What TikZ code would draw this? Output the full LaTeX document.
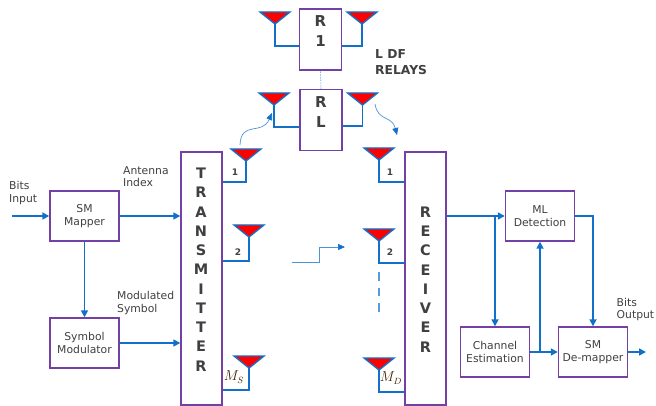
\documentclass[tikz,border=0pt]{standalone}
\usepackage{fontspec}
\setmainfont{DejaVu Sans}
\usetikzlibrary{arrows.meta}
\definecolor{boxpurple}{HTML}{7340A6}
\definecolor{wire}{HTML}{1270C8}
\definecolor{txt}{HTML}{404040}
\tikzset{
  blockbox/.style={draw=boxpurple,line width=1.4pt,fill=white,inner sep=0pt,text=txt,align=center,
    font=\fontsize{10.8}{12.6}\selectfont},
  tallbox/.style={blockbox,minimum width=41pt,minimum height=253pt},
  relaybox/.style={blockbox,minimum width=42pt,minimum height=61pt},
  smallbox/.style={blockbox,minimum width=69pt,minimum height=50pt},
  stack/.style={inner sep=0pt,text=txt,align=center,font=\fontsize{14.5}{19.25}\bfseries\selectfont},
  relaystack/.style={inner sep=0pt,text=txt,align=center,font=\fontsize{15}{20}\bfseries\selectfont},
  caption/.style={inner sep=0pt,text=txt,align=left,font=\fontsize{10.8}{12.6}\selectfont},
  relaycap/.style={inner sep=0pt,text=txt,align=left,font=\fontsize{12.3}{16}\bfseries\selectfont},
  portnum/.style={inner sep=0pt,text=txt,font=\fontsize{9}{10}\bfseries\selectfont},
  portmath/.style={inner sep=0pt,text=black!75!orange,font=\fontsize{13.5}{14}\selectfont},
  link/.style={draw=wire,line width=1.6pt,-{Triangle[length=7pt,width=7pt]}},
  feed/.style={draw=wire,line width=1.4pt},
  flow/.style={draw=wire!75,line width=.7pt,-{Triangle[length=7pt,width=6pt,color=wire,fill=wire]}},
  ant/.style={draw=wire,line width=1.4pt,fill=red,line join=miter},
}
% #1 name, #2 x, #3 top y
\newcommand{\antennaat}[3]{%
  \coordinate (#1) at (#2,#3+12);
  \draw[ant] (#2-15,#3) -- (#2+15,#3) -- (#1) -- cycle;
}
\begin{document}
\begin{tikzpicture}[x=1pt,y=-1pt]
\useasboundingbox (0,0) rectangle (656,406);

% main blocks
\node[tallbox] (tx) at (201.5,278.5) {};
\node[tallbox] (rx) at (425.5,278.5) {};
\node[stack] (txtext) at (201,269.5) {T\\R\\A\\N\\S\\M\\I\\T\\T\\E\\R};
\node[stack] (rxtext) at (425.5,279.5) {R\\E\\C\\E\\I\\V\\E\\R};
\node[relaybox] (r1) at (320.5,39.5) {};
\node[relaybox] (rl) at (321,120) {};
\node[relaystack] (r1text) at (320.5,31) {R\\1};
\node[relaystack] (rltext) at (321,112) {R\\L};
\node[smallbox] (map) at (84.5,216) {SM\\Mapper};
\node[smallbox] (mod) at (84.5,343) {Symbol\\Modulator};
\node[smallbox] (ml) at (540,216) {ML\\Detection};
\node[smallbox] (ce) at (495,352) {Channel\\Estimation};
\node[smallbox] (dem) at (593,352) {SM\\De-mapper};

% free ends
\coordinate (bitsin) at (12,216);
\coordinate (bitsout) at (646,352);
\coordinate (mltap) at (495,216);
\coordinate (cetap) at (540,352);
\coordinate (mlright) at (593,216);

% relay antennas
\antennaat{a1l}{275}{12}
\antennaat{a1r}{362}{12}
\antennaat{all}{274}{93}
\antennaat{alr}{362.5}{93}
\draw[feed] (a1l) |- (r1.west |- 0,46);
\draw[feed] (a1r) |- (r1.east |- 0,46);
\draw[feed] (all) |- (rl.west |- 0,127);
\draw[feed] (alr) |- (rl.east |- 0,126);
\draw[wire,densely dotted,line width=.6pt] (r1.south) -- (rl.north);

% transmit antennas
\antennaat{t1}{246}{149}
\antennaat{t2}{249}{225}
\antennaat{t3}{249}{356}
\draw[feed] (t1) |- (tx.east |- 0,182);
\draw[feed] (t2) |- (tx.east |- 0,261);
\draw[feed] (t3) |- (tx.east |- 0,390);

% receive antennas
\antennaat{r1a}{379}{148}
\antennaat{r2a}{379}{229}
\antennaat{r3a}{379}{358}
\draw[feed] (r1a) |- (rx.west |- 0,182);
\draw[feed] (r2a) |- (rx.west |- 0,263);
\draw[feed] (r3a) |- (rx.west |- 0,392);

% continuation dashes
\coordinate (dashtop) at (379,272);
\coordinate (dashend) at (379,312);
\draw[wire!70,line width=1.2pt,dash pattern=on 8.5pt off 7pt] (dashtop) -- (dashend);

% wireless hints
\coordinate (c1a) at (240,145);
\coordinate (c1b) at (272,113);
\coordinate (c2a) at (375,104);
\coordinate (c2b) at (397,135);
\coordinate (s1) at (292,262);
\coordinate (s2) at (345,247);
\draw[flow] (c1a) .. controls (241,120) and (262,136) .. (c1b);
\draw[flow] (c2a) .. controls (378,122) and (392,115) .. (c2b);
\draw[flow] (s1) -- (319,262) -- (319,247) -- (s2);

% signal paths
\draw[link] (bitsin) -- (map.west);
\draw[link] (map.east) -- (tx.west |- map.east);
\draw[link] (map.south) -- (mod.north);
\draw[link] (mod.east) -- (tx.west |- mod.east);
\draw[link] (rx.east |- ml.west) -- (ml.west);
\draw[link] (mltap) -- (ce.north);
\draw[link] (ce.east) -- (dem.west);
\draw[link] (cetap) -- (ml.south);
\draw[link] (ml.east) -- (mlright) -- (dem.north);
\draw[link] (dem.east) -- (bitsout);

% captions
\node[caption,anchor=west] (lbin) at (9,193) {Bits\\Input};
\node[caption,anchor=west] (lbai) at (123,176.5) {Antenna\\Index};
\node[caption,anchor=west] (lbms) at (117,303) {Modulated\\Symbol};
\node[caption,anchor=west] (lbout) at (616.5,309.5) {Bits\\Output};
\node[relaycap,anchor=west] (lbrel) at (375,62) {L DF\\RELAYS};

% port labels
\node[portnum] (p1) at (235,172) {1};
\node[portnum] (p2) at (238,252) {2};
\node[portnum] (q1) at (390,172) {1};
\node[portnum] (q2) at (390,252) {2};
\node[portmath] (p3) at (234,377) {$M_S$};
\node[portmath] (q3) at (391,378) {$M_D$};
\end{tikzpicture}
\end{document}
